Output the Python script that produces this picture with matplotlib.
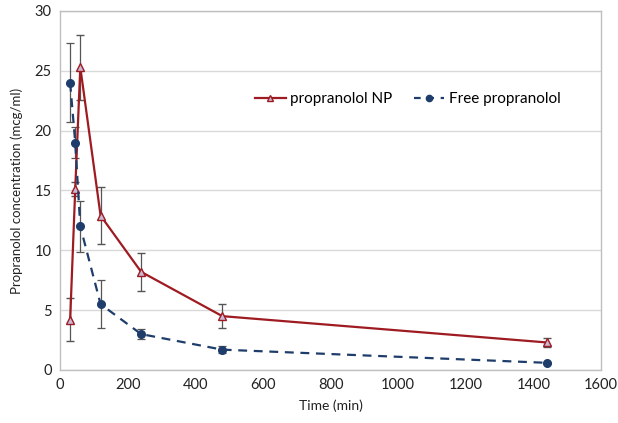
import matplotlib
matplotlib.use('Agg')
import matplotlib.pyplot as plt
from matplotlib.lines import Line2D

# Data
time_min = [30, 45, 60, 120, 240, 480, 1440]
np_conc = [4.2, 15.1, 25.3, 12.9, 8.2, 4.5, 2.3]
np_err = [1.8, 0.6, 2.7, 2.4, 1.6, 1.0, 0.35]
free_conc = [24.0, 19.0, 12.0, 5.5, 3.0, 1.7, 0.6]
free_err = [3.3, 1.3, 2.1, 2.0, 0.4, 0.3, 0.1]

plt.rcParams['font.family'] = ['Lato', 'DejaVu Sans']

np_color = '#9e1b22'
free_color = '#1f3d6b'

fig = plt.figure(figsize=(6.18, 4.23), dpi=100)
ax = fig.add_axes([0.0971, 0.1253, 0.8754, 0.8487])

ax.errorbar(time_min, np_conc, yerr=np_err, color=np_color, lw=1.6,
            marker='^', ms=6, mfc='#c9b8d6', mec=np_color, mew=1.0,
            ecolor='#555555', elinewidth=0.9, capsize=3, capthick=0.9, zorder=3)
ax.errorbar(time_min, free_conc, yerr=free_err, color=free_color, lw=1.6,
            ls=(0, (4, 3)), marker='o', ms=5.5, mfc=free_color, mec=free_color,
            ecolor='#555555', elinewidth=0.9, capsize=3, capthick=0.9, zorder=3)

ax.set_xlim(0, 1600)
ax.set_ylim(0, 30)
ax.set_xticks(range(0, 1601, 200))
ax.set_yticks(range(0, 31, 5))
ax.grid(axis='y', color='#d9d9d9', lw=1.0)
ax.set_axisbelow(True)
for s in ax.spines.values():
    s.set_color('#bfbfbf')
    s.set_linewidth(1.0)
ax.tick_params(length=0, labelsize=10.5, colors='#222222', pad=6)

ax.set_xlabel('Time (min)', fontsize=10, color='#222222', labelpad=5)
ax.set_ylabel('Propranolol concentration (mcg/ml)', fontsize=9.5, color='#222222', labelpad=8)

# legend handles without the error bars, as in the original
handles = [
    Line2D([], [], color=np_color, lw=1.6, marker='^', ms=4.5, mfc='#c9b8d6', mec=np_color),
    Line2D([], [], color=free_color, lw=1.6, ls=(0, (3, 3)), marker='o', ms=4.5, mfc=free_color, mec=free_color),
]
ax.legend(handles, ['propranolol NP', 'Free propranolol'], loc='center',
          bbox_to_anchor=(0.643, 0.755), ncol=2, frameon=False,
          fontsize=11, handlelength=2.0, columnspacing=1.4, handletextpad=0.3)

fig.savefig('out.png', dpi=100)
